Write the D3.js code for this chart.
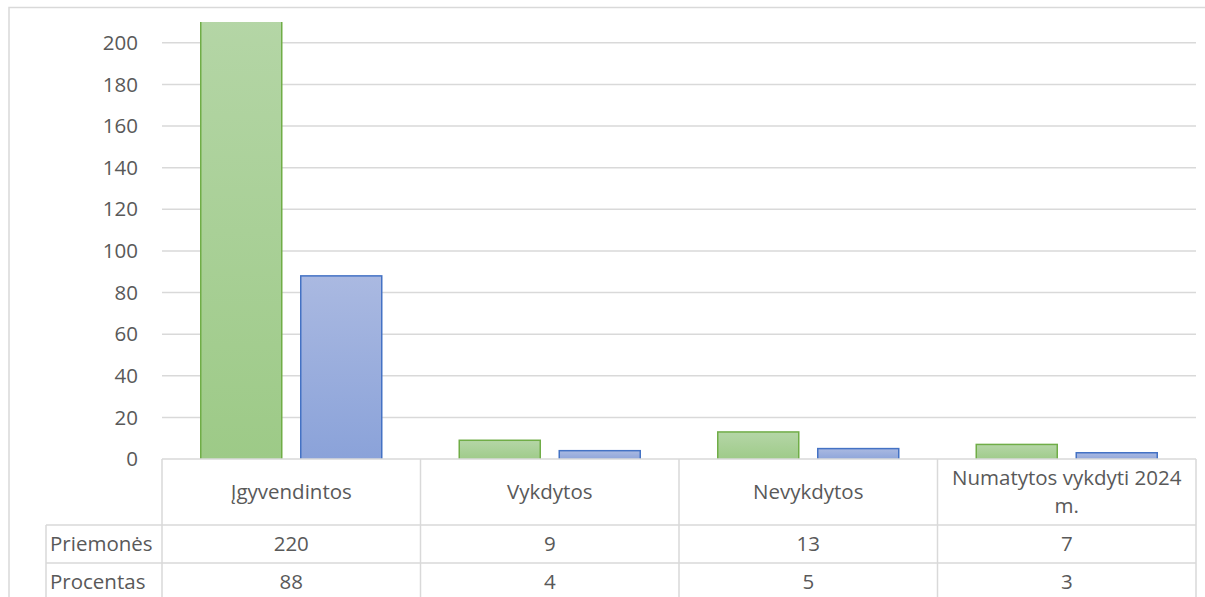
<!DOCTYPE html>
<html>
<head>
<meta charset="utf-8">
<script src="https://cdn.jsdelivr.net/npm/d3@7"></script>
<style>
  body { margin: 0; background: #fff; }
  text { font-family: "Open Sans", sans-serif; fill: #595959; }
</style>
</head>
<body>
<div id="chart"></div>
<script>
var categories = ["Įgyvendintos", "Vykdytos", "Nevykdytos", "Numatytos vykdyti 2024 m."];
var seriesNames = ["Priemonės", "Procentas"];
var priemones = [220, 9, 13, 7];
var procentas = [88, 4, 5, 3];
var yTicks = [0, 20, 40, 60, 80, 100, 120, 140, 160, 180, 200];

var width = 1205, height = 597;
var plotLeft = 162, plotRight = 1196, plotTop = 22, zeroY = 459;
var headerH = 66, rowH = 38, labelX = 46;
var fontSize = "20.5px";

var svg = d3.select("#chart").append("svg")
            .attr("width", width)
            .attr("height", height);

var defs = svg.append("defs");
function grad(id, c1, c2) {
  var g = defs.append("linearGradient").attr("id", id)
              .attr("x1", 0).attr("y1", 0).attr("x2", 0).attr("y2", 1);
  g.append("stop").attr("offset", "0%").attr("stop-color", c1);
  g.append("stop").attr("offset", "100%").attr("stop-color", c2);
}
grad("gGreen", "#b5d6a7", "#9dca87");
grad("gBlue", "#aab9e1", "#8aa2d9");

// chart border
svg.append("rect")
   .attr("x", 9).attr("y", 7.5)
   .attr("width", 1220).attr("height", 620)
   .attr("fill", "none").attr("stroke", "#d9d9d9").attr("stroke-width", 1.5);

var x = d3.scaleBand()
          .domain(categories)
          .range([plotLeft, plotRight]);

var xs = d3.scaleBand()
           .domain(seriesNames)
           .range([38.75, x.bandwidth() - 38.75])
           .paddingInner(0.19);

var y = d3.scaleLinear()
          .domain([0, 210])
          .range([zeroY, plotTop]);

// gridlines
svg.append("g").selectAll("line")
   .data(yTicks.filter(function(d){ return d > 0; }))
   .enter().append("line")
   .attr("x1", plotLeft).attr("x2", plotRight)
   .attr("y1", function(d){ return y(d); })
   .attr("y2", function(d){ return y(d); })
   .attr("stroke", "#d9d9d9").attr("stroke-width", 1.5);

// y axis labels
svg.append("g").selectAll("text")
   .data(yTicks)
   .enter().append("text")
   .attr("x", 138)
   .attr("y", function(d){ return y(d); })
   .attr("dy", "0.35em")
   .attr("text-anchor", "end")
   .style("font-size", fontSize)
   .text(function(d){ return d; });

// bars
var series = [
  {name: seriesNames[0], values: priemones, fill: "url(#gGreen)", stroke: "#70ad47"},
  {name: seriesNames[1], values: procentas, fill: "url(#gBlue)", stroke: "#4472c4"}
];

var clip = defs.append("clipPath").attr("id", "plotClip");
clip.append("rect").attr("x", plotLeft).attr("y", plotTop)
    .attr("width", plotRight - plotLeft).attr("height", zeroY - plotTop);

var barG = svg.append("g").attr("clip-path", "url(#plotClip)");
series.forEach(function(s){
  barG.selectAll(null)
      .data(s.values)
      .enter().append("rect")
      .attr("x", function(d, i){ return x(categories[i]) + xs(s.name); })
      .attr("y", function(d){ return y(d); })
      .attr("width", xs.bandwidth())
      .attr("height", function(d){ return zeroY - y(d) + 2; })
      .attr("fill", s.fill)
      .attr("stroke", s.stroke)
      .attr("stroke-width", 1.5);
});

// data table
var tbl = svg.append("g").attr("stroke", "#d9d9d9").attr("stroke-width", 1.5);
tbl.append("line").attr("x1", plotLeft).attr("x2", plotRight).attr("y1", zeroY).attr("y2", zeroY);
[zeroY + headerH, zeroY + headerH + rowH, zeroY + headerH + rowH * 2].forEach(function(yy){
  tbl.append("line").attr("x1", labelX).attr("x2", plotRight).attr("y1", yy).attr("y2", yy);
});
tbl.append("line").attr("x1", labelX).attr("x2", labelX)
   .attr("y1", zeroY + headerH).attr("y2", height + 10);
categories.forEach(function(c){
  tbl.append("line").attr("x1", x(c)).attr("x2", x(c))
     .attr("y1", zeroY).attr("y2", height + 10);
});
tbl.append("line").attr("x1", plotRight).attr("x2", plotRight)
   .attr("y1", zeroY).attr("y2", height + 10);

// header labels
var wrapped = {"Numatytos vykdyti 2024 m.": ["Numatytos vykdyti 2024", "m."]};
categories.forEach(function(c){
  var lines = wrapped[c] || [c];
  var cy = zeroY + headerH / 2 - (lines.length - 1) * 14;
  lines.forEach(function(l, j){
    svg.append("text")
       .attr("x", x(c) + x.bandwidth() / 2)
       .attr("y", cy + j * 28)
       .attr("dy", "0.35em")
       .attr("text-anchor", "middle")
       .style("font-size", fontSize)
       .text(l);
  });
});

// rows
series.forEach(function(s, r){
  var ry = zeroY + headerH + rowH * r + rowH / 2;
  svg.append("text")
     .attr("x", labelX + 4).attr("y", ry).attr("dy", "0.35em")
     .style("font-size", fontSize)
     .text(s.name);
  s.values.forEach(function(v, i){
    svg.append("text")
       .attr("x", x(categories[i]) + x.bandwidth() / 2)
       .attr("y", ry).attr("dy", "0.35em")
       .attr("text-anchor", "middle")
       .style("font-size", fontSize)
       .text(v);
  });
});
</script>
</body>
</html>
